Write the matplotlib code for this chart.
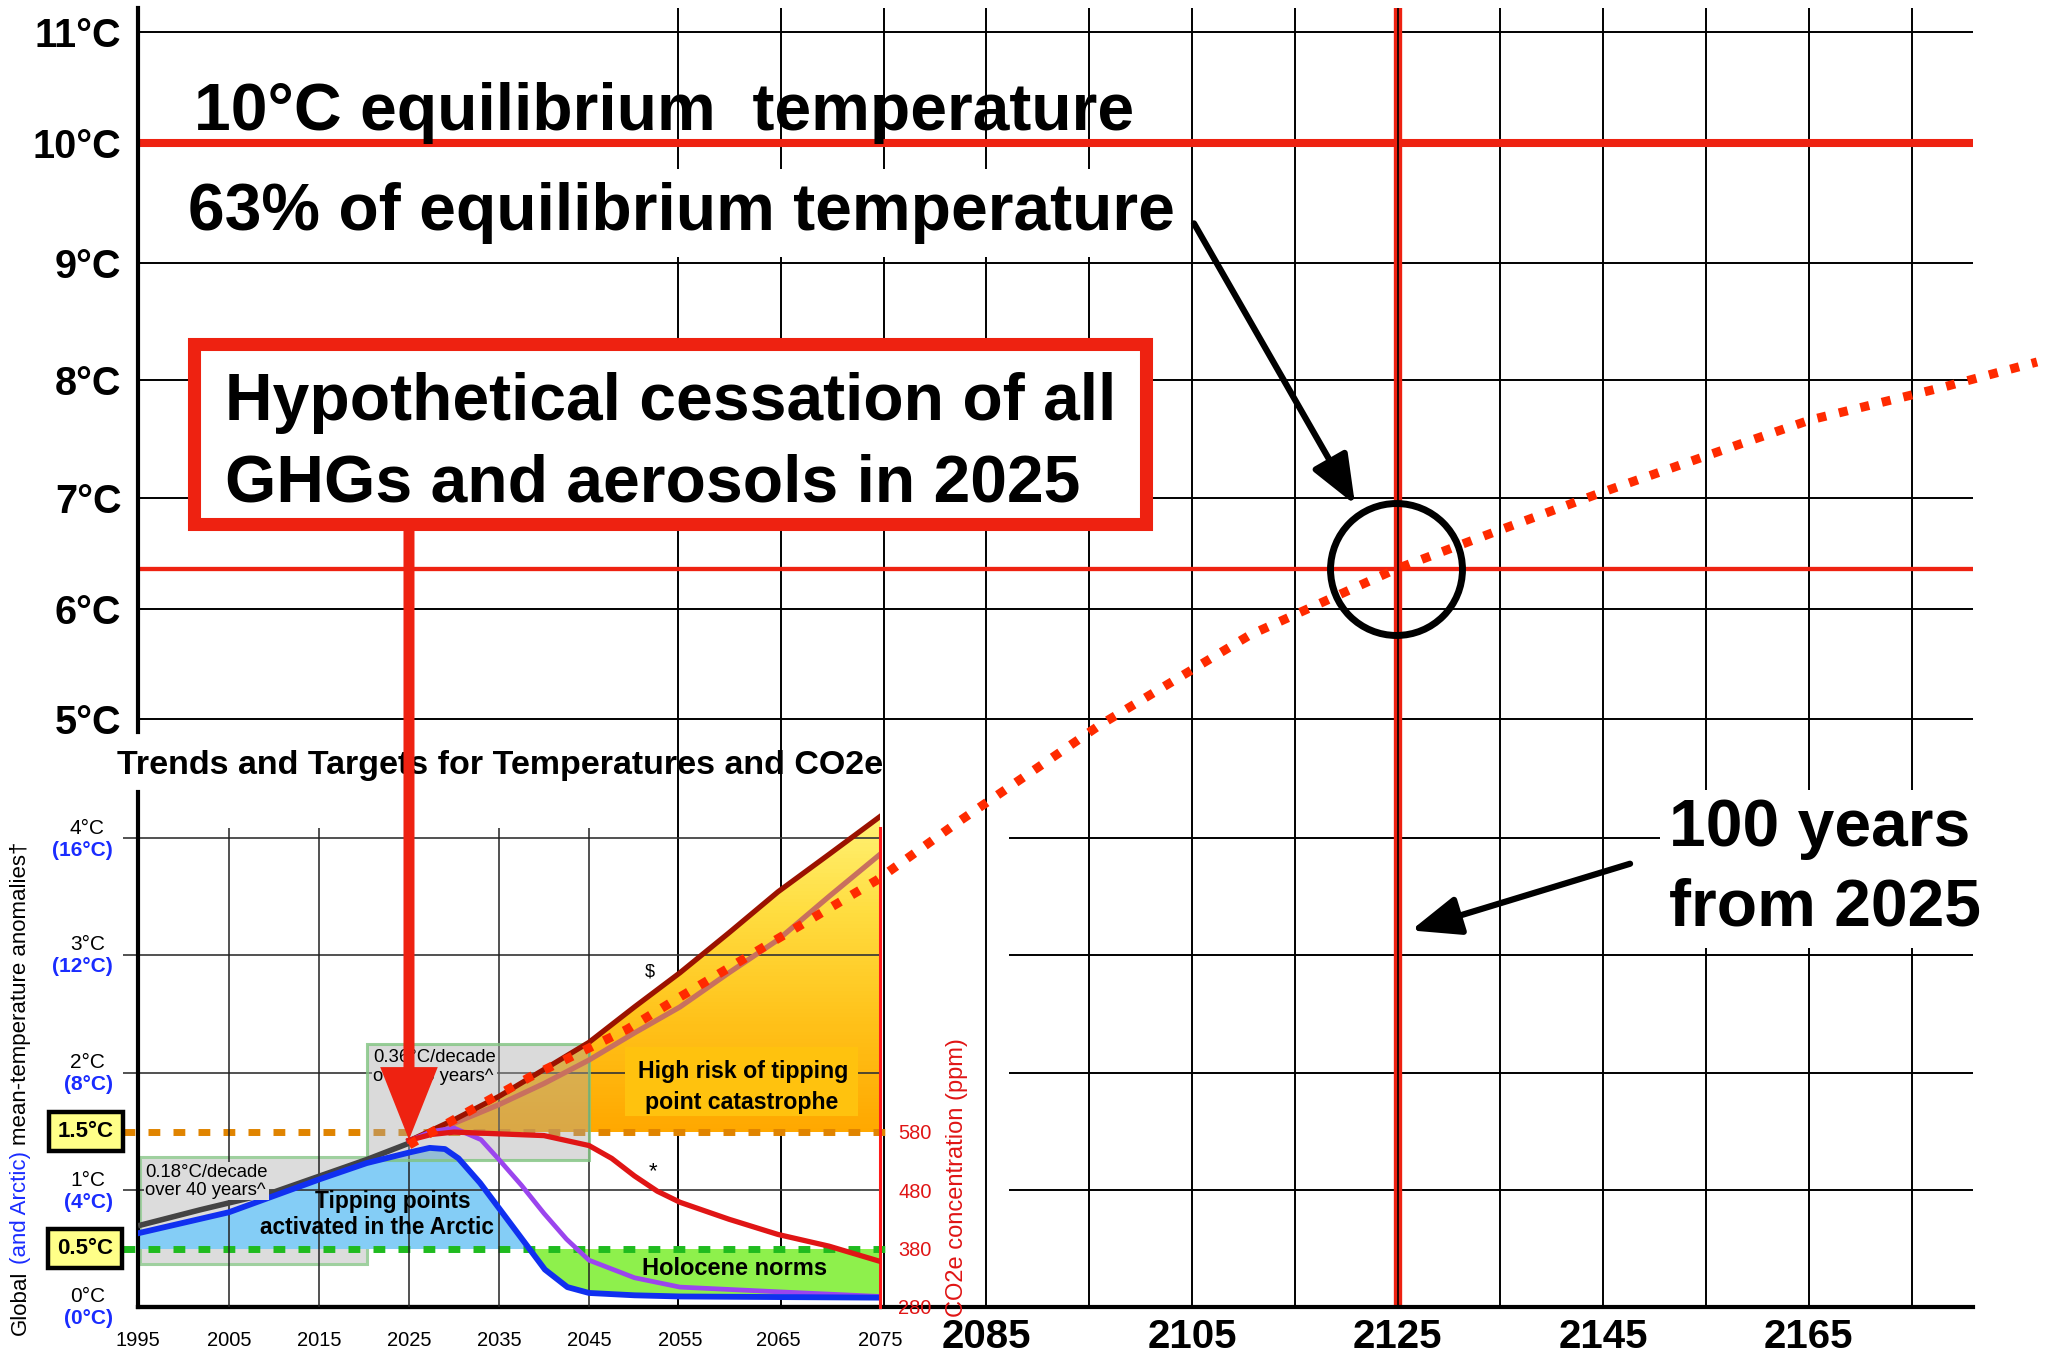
import numpy as np
import matplotlib
matplotlib.use("Agg")
import matplotlib.pyplot as plt
from matplotlib.patches import Rectangle, FancyArrow
from matplotlib.colors import LinearSegmentedColormap

plt.rcParams['font.family'] = ['Liberation Sans', 'DejaVu Sans']

# ---------------- values ----------------
# small chart: years 1995-2075, global anomaly (degC)
obs_years = [1995.3, 2001.8, 2009.9, 2020.3, 2025.0]
obs_temp = [0.70, 0.83, 0.98, 1.26, 1.40]

arctic_years = [1995.0, 2005, 2015, 2020.3, 2025, 2027.3, 2029, 2030.5, 2032.9, 2036.6,
                2040.1, 2042.6, 2045, 2050, 2055, 2065, 2075]
arctic_temp = [0.63, 0.81, 1.09, 1.23, 1.32, 1.36, 1.35, 1.27, 1.06, 0.68,
               0.32, 0.17, 0.12, 0.10, 0.09, 0.085, 0.08]

cess_years = [2025, 2027.5, 2030, 2033, 2035, 2037.5, 2040, 2042.5, 2045, 2050, 2055, 2065, 2075]
cess_temp = [1.42, 1.50, 1.53, 1.43, 1.26, 1.04, 0.80, 0.58, 0.40, 0.25, 0.17, 0.13, 0.09]

proj_years = [2025, 2030, 2035, 2040, 2045, 2050, 2055, 2060, 2065, 2070, 2075]
high_temp = [1.42, 1.60, 1.80, 2.03, 2.26, 2.56, 2.85, 3.19, 3.54, 3.86, 4.18]
mid_temp = [1.42, 1.57, 1.73, 1.91, 2.11, 2.34, 2.56, 2.85, 3.13, 3.50, 3.86]

co2_years = [2025, 2027.5, 2030, 2035, 2040, 2045, 2047.5, 2050, 2052.5, 2055, 2060, 2065, 2070, 2075]
co2_ppm = [565, 575, 579, 576, 573, 556, 534, 504, 478, 459, 430, 404, 384, 358]

inset_ticks = list(range(1995, 2076, 10))
global_marks = [0, 1, 2, 3, 4]
arctic_marks = [0, 4, 8, 12, 16]
co2_ticks = [280, 380, 480, 580]

# big chart: hypothetical cessation curve (years on the extended grid)
hyp_years = [2028.83, 2040.60, 2050.04, 2055.19, 2063.95, 2074.36, 2082.24, 2096.05,
             2110.64, 2124.84, 2134.96, 2144.69, 2158.60, 2165.12, 2177.76, 2187.20]
hyp_temp = [1.385, 1.966, 2.37, 2.644, 3.10, 3.641, 4.134, 4.950,
            5.764, 6.360, 6.712, 7.042, 7.466, 7.661, 7.932, 8.154]

equilibrium = 10.0
share_63 = 6.36
big_yticks = [5, 6, 7, 8, 9, 10, 11]
big_xticks = [2085, 2105, 2125, 2145, 2165]

# ---------------- layout ----------------
W, H, DPI = 2053, 1358, 100
RED = '#ee2211'
DOTRED = '#ff2a00'
BLUE = '#1a2cff'
CO2RED = '#e01515'

# rows of the degree lines (the drawn grid is slightly irregular)
deg_marks = np.arange(0, 13)
deg_rows = H - np.array([1307, 1190, 1073, 955, 838, 719, 609, 498, 380, 263, 143, 32, -79])
# columns of the small chart's decade lines
yr_marks = np.arange(1985, 2086, 10)
yr_cols = np.array([47, 138, 229, 319, 409, 499, 589, 680, 778, 880, 982])


def t_fwd(v):
    return np.interp(v, deg_marks, deg_rows)


def t_inv(v):
    return np.interp(v, deg_rows, deg_marks)


def yr_fwd(v):
    return np.interp(v, yr_marks, yr_cols)


def yr_inv(v):
    return np.interp(v, yr_cols, yr_marks)


def rect(x0, y0, x1, y1):
    return [x0 / W, 1 - y1 / H, (x1 - x0) / W, (y1 - y0) / H]


fig = plt.figure(figsize=(W / DPI, H / DPI), dpi=DPI)

XL = (2002.47, 2180.97)
ytop = float(t_inv(H - 8))

# ---- big extended grid ----
ax = fig.add_axes(rect(138, 8, 1973, 1307), zorder=0)
ax.set_yscale('function', functions=(t_fwd, t_inv))
ax.set_xlim(*XL)
ax.set_ylim(0, ytop)
ax.vlines(np.arange(2055, 2176, 10), 0, ytop, colors='k', lw=1.4, zorder=1)
ax.hlines([5, 6, 7, 8, 9, 11], XL[0], XL[1], colors='k', lw=1.4, zorder=1)
ax.hlines([1, 2, 3, 4], 2087.2, XL[1], colors='k', lw=1.4, zorder=1)
ax.axvline(2125, color=RED, lw=6, zorder=2)
ax.axvline(2125, color='k', lw=1.2, zorder=3)
ax.hlines(equilibrium, XL[0], XL[1] + 0.2, colors=RED, lw=5.8, zorder=2)
ax.hlines(share_63, XL[0], XL[1], colors=RED, lw=3.1, zorder=2)
ax.set_yticks(big_yticks)
ax.set_yticklabels([f'{t}°C' for t in big_yticks], fontsize=28.5, fontweight='bold')
ax.set_xticks(big_xticks)
ax.set_xticklabels([str(y) for y in big_xticks], fontsize=29, fontweight='bold')
ax.tick_params(length=0)
ax.tick_params(axis='y', pad=12)
ax.tick_params(axis='x', pad=8)
ax.spines['top'].set_visible(False)
ax.spines['right'].set_visible(False)
ax.spines['left'].set_linewidth(3)
ax.spines['left'].set_bounds(4.89, ytop)
ax.spines['bottom'].set_linewidth(3)

# ---- small chart ----
itop = float(t_inv(H - 792))
axi = fig.add_axes(rect(138, 792, 880, 1307), zorder=1)
axi.set_xscale('function', functions=(yr_fwd, yr_inv))
axi.set_yscale('function', functions=(t_fwd, t_inv))
axi.set_xlim(1995, 2075)
axi.set_ylim(0, itop)
axi.patch.set_visible(False)
axi.spines['top'].set_visible(False)
axi.spines['right'].set_visible(False)
axi.spines['left'].set_linewidth(3)
axi.spines['bottom'].set_linewidth(3)
axi.set_xticks(inset_ticks)
axi.set_xticklabels([str(y) for y in inset_ticks], fontsize=14.5)
axi.set_yticks([])
axi.tick_params(axis='x', length=0, pad=17.5)

# grey trend boxes
axi.add_patch(Rectangle((1995.2, 0.37), 2020.3 - 1995.2, 1.28 - 0.37,
                        facecolor='#dcdcdc', edgecolor='#9fd09f', lw=2.2, zorder=1))
axi.add_patch(Rectangle((2020.3, 1.26), 2045 - 2020.3, 2.25 - 1.26,
                        facecolor=(0.66, 0.66, 0.66, 0.42), edgecolor=(0.5, 0.77, 0.5, 0.8),
                        lw=2.2, zorder=3))

at = np.array(arctic_temp)
axi.fill_between(arctic_years, 0.5, arctic_temp, where=at >= 0.5, interpolate=True,
                 color='#84cdf6', lw=0, zorder=2)
axi.fill_between(arctic_years, arctic_temp, 0.5, where=at <= 0.5, interpolate=True,
                 color='#8ef04c', lw=0, zorder=2)

# orange -> yellow gradient under the high projection
ht = np.array(high_temp)
poly = axi.fill_between(proj_years, 1.5, high_temp, where=ht >= 1.5, interpolate=True,
                        facecolor='none', edgecolor='none')
cmap = LinearSegmentedColormap.from_list('risk', ['#ffa800', '#ffc21a', '#ffdd40', '#fff57e'])
gy = np.linspace(1.5, 4.3, 90)
mesh = axi.pcolormesh([2024, 2076], gy, gy[:-1, None], cmap=cmap, vmin=1.5, vmax=4.3,
                      shading='flat', zorder=2)
mesh.set_clip_path(poly.get_paths()[0], axi.transData)

axi.vlines(range(2005, 2046, 10), 0, 4.08, colors='#222222', lw=1.1, zorder=2.7)
axi.hlines([1, 2, 3, 4], 1993.3, 2075, colors='#333333', lw=1.2, zorder=2.5, clip_on=False)

axi.plot([1993.4, 2076.3], [1.5, 1.5], color='#e08400', lw=5, dashes=(1.7, 1.9),
         clip_on=False, zorder=2.6)
axi.plot([1993.3, 2075.5], [0.5, 0.5], color='#1fbb1f', lw=5, dashes=(1.7, 1.9),
         clip_on=False, zorder=2.6)

axi.plot(obs_years, obs_temp, color='#444444', lw=4, zorder=4)
axi.plot(proj_years, mid_temp, color='#c8705f', lw=3.8, zorder=4)
axi.plot(proj_years, high_temp, color='#9b1200', lw=3.8, zorder=4)
axi.plot(cess_years, cess_temp, color='#9b45ee', lw=3.4, zorder=4)
axi.plot(arctic_years, arctic_temp, color='#1030f0', lw=4.2, zorder=4.1)

# label background for the risk zone
axi.add_patch(Rectangle((2049.0, 1.63), 2072.8 - 2049.0, 2.22 - 1.63,
                        facecolor='#ffc20e', edgecolor='none', zorder=2.55))

axi.text(1995.8, 1.075, '0.18°C/decade\nover 40 years^', fontsize=13.3, linespacing=1.1,
         va='center', ha='left', zorder=5,
         bbox=dict(facecolor='#dcdcdc', edgecolor='none', pad=1))
axi.text(2021.0, 2.05, '0.36°C/decade\nover 25 years^', fontsize=13.3, linespacing=1.1,
         va='center', ha='left', zorder=5,
         bbox=dict(facecolor='#dadada', edgecolor='none', pad=1))
axi.text(2023.2, 0.90, 'Tipping points', fontsize=16.3, fontweight='bold',
         ha='center', va='center', zorder=5)
axi.text(2021.4, 0.68, 'activated in the Arctic', fontsize=16.3, fontweight='bold',
         ha='center', va='center', zorder=5)
axi.text(2061.4, 2.01, 'High risk of tipping', fontsize=16.7, fontweight='bold',
         ha='center', va='center', zorder=5)
axi.text(2061.3, 1.75, 'point catastrophe', fontsize=16.7, fontweight='bold',
         ha='center', va='center', zorder=5)
axi.text(2060.6, 0.33, 'Holocene norms', fontsize=17, fontweight='bold',
         ha='center', va='center', zorder=5)
axi.text(2052.0, 1.16, '*', fontsize=16, ha='center', va='center', zorder=5)
axi.text(2051.7, 2.86, '$', fontsize=13, ha='center', va='center', zorder=5)

# degree labels: global (black) and Arctic (blue)
for g, a in zip(global_marks, arctic_marks):
    axi.annotate(f'{g}°C', xy=(0, g), xycoords=('axes fraction', 'data'),
                 xytext=(-33, 10), textcoords='offset pixels', ha='right', va='center',
                 fontsize=15, annotation_clip=False)
    axi.annotate(f'({a}°C)', xy=(0, g), xycoords=('axes fraction', 'data'),
                 xytext=(-25, -12), textcoords='offset pixels', ha='right', va='center',
                 fontsize=15, fontweight='bold', color=BLUE, annotation_clip=False)
for lvl, dx in [(1.5, -52), (0.5, -53)]:
    axi.annotate(f'{lvl}°C', xy=(0, lvl), xycoords=('axes fraction', 'data'),
                 xytext=(dx, 0), textcoords='offset pixels', ha='center', va='center',
                 fontsize=16, fontweight='bold', annotation_clip=False, zorder=6,
                 bbox=dict(boxstyle='square,pad=0.4', facecolor='#ffff88',
                           edgecolor='k', lw=3.2))

# multi-colour rotated axis label
renderer = fig.canvas.get_renderer()
ypos = -0.054
gap = 0.278 * 16 * DPI / 72
for txt, col in [('Global', 'k'), ('(and Arctic)', BLUE),
                 ('mean-temperature anomalies†', 'k')]:
    t = axi.text(-0.159, ypos, txt, rotation=90, ha='center', va='bottom', fontsize=16,
                 color=col, transform=axi.transAxes)
    bb = t.get_window_extent(renderer)
    ypos = axi.transAxes.inverted().transform((0, bb.y1 + gap))[1]

# CO2e axis
axc = axi.twinx()
axc.set_zorder(2)
axc.patch.set_visible(False)
axc.set_yscale('function', functions=(lambda c: t_fwd((np.asarray(c) - 280) / 200),
                                      lambda v: t_inv(v) * 200 + 280))
axc.set_ylim(280, 280 + 200 * itop)
axc.plot(co2_years, co2_ppm, color=CO2RED, lw=3.8, zorder=4)
axc.set_yticks(co2_ticks)
axc.set_yticklabels([str(c) for c in co2_ticks], fontsize=14.4, color=CO2RED)
axc.tick_params(axis='y', length=0, pad=13)
for s in ['top', 'left', 'bottom']:
    axc.spines[s].set_visible(False)
axc.spines['right'].set_color('#ff1a1a')
axc.spines['right'].set_linewidth(2.2)
axc.spines['right'].set_bounds(280, 280 + 200 * 4.08)
axc.text(1.1038, 0.2505, 'CO2e concentration (ppm)', rotation=90, ha='center', va='center',
         fontsize=17, color=CO2RED, transform=axc.transAxes)

# ---- overlay: annotations on top of both charts ----
axt = fig.add_axes(rect(138, 8, 1973, 1307), zorder=5)
axt.set_yscale('function', functions=(t_fwd, t_inv))
axt.set_xlim(*XL)
axt.set_ylim(0, ytop)
axt.axis('off')

axt.plot(hyp_years, hyp_temp, color=DOTRED, lw=6.5, linestyle=(0, (1.0, 1.45)),
         dash_capstyle='butt', clip_on=False, zorder=4)

axt.text(2000.43, 4.61, 'Trends and Targets for Temperatures and CO2e', fontsize=24.5,
         fontweight='bold', ha='left', va='center', zorder=1)

axt.text(2007.92, 10.12, '10°C equilibrium  temperature', fontsize=47.5,
         fontweight='bold', ha='left', va='baseline', zorder=3)
axt.text(2007.29, 9.275, '63% of equilibrium temperature', fontsize=47.5,
         fontweight='bold', ha='left', va='baseline', zorder=3,
         bbox=dict(facecolor='white', edgecolor='none', pad=9))

axt.add_patch(Rectangle((2007.87, 6.77), 2100.48 - 2007.87, 8.31 - 6.77, facecolor='white',
                        edgecolor=RED, lw=9.4, joinstyle='miter', zorder=3))
axt.text(2010.93, 7.66, 'Hypothetical cessation of all', fontsize=47.5, fontweight='bold',
         ha='left', va='baseline', zorder=4)
axt.text(2010.93, 6.97, 'GHGs and aerosols in 2025', fontsize=47.5, fontweight='bold',
         ha='left', va='baseline', zorder=4)
axt.add_patch(FancyArrow(2028.83, 6.77, 0, 1.43 - 6.77, width=1.07, head_width=5.6,
                         head_length=0.62, length_includes_head=True, color=RED, lw=0,
                         zorder=2))

axt.plot([2124.8], [share_63], marker='o', ms=95, mfc='none', mec='k', mew=5, zorder=6)
arrow_kw = dict(arrowstyle='-|>,head_length=0.75,head_width=0.3', mutation_scale=40,
                lw=4.5, color='k', shrinkA=0, shrinkB=0)
axt.annotate('', xy=(2120.86, 6.94), xytext=(2105.19, 9.33), arrowprops=arrow_kw, zorder=6)
axt.annotate('', xy=(2126.30, 3.21), xytext=(2147.61, 3.78), arrowprops=arrow_kw, zorder=6)

for txt, yb in [('100 years', 3.93), ('from 2025', 3.25)]:
    axt.text(2151.40, yb, txt, fontsize=47.5, fontweight='bold', ha='left', va='baseline',
             zorder=5, bbox=dict(facecolor='white', edgecolor='none', pad=6))

fig.savefig('out.png', dpi=DPI)
